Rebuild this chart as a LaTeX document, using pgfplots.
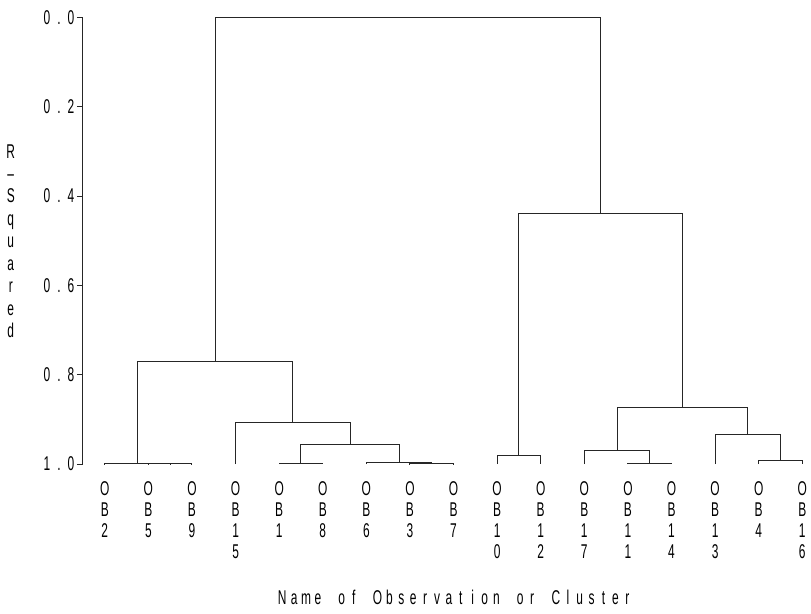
\documentclass[border=0pt]{standalone}
\usepackage{fontspec}
\setmainfont{Liberation Sans}
\usepackage{graphicx}
\usepackage{pgfplots}
\pgfplotsset{compat=1.18}
\newcommand{\g}[1]{\scalebox{0.6}[1]{#1}}
\newcommand{\cell}[1]{\makebox[11.9bp]{\g{#1}}}
\makeatletter
\def\cells#1{\cells@i#1\relax}
\def\cells@i#1{\ifx\relax#1\else\cell{#1}\expandafter\cells@i\fi}
\makeatother
\newcommand{\OB}[1]{\g{O}\\\g{B}\\\g{#1}}
\newcommand{\OBB}[2]{\g{O}\\\g{B}\\\g{#1}\\\g{#2}}
\newcommand{\leaf}[2]{\node[anchor=north, align=center, inner sep=0pt, font=\fontsize{20}{21}\selectfont] at (axis cs:#1,1.04) {#2};}
\begin{document}
\begin{tikzpicture}
\path[use as bounding box] (-83bp,-150bp) rectangle (728bp,464bp);
\begin{axis}[
  at={(0,0)}, anchor=south west,
  scale only axis, width=728bp, height=446.5bp,
  xmin=-0.5, xmax=16.2, ymin=0, ymax=1, y dir=reverse,
  axis x line=none, axis y line*=left,
  ytick={0,0.2,0.4,0.6,0.8,1},
  yticklabels={\cells{0.0},\cells{0.2},\cells{0.4},\cells{0.6},\cells{0.8},\cells{1.0}},
  yticklabel style={font=\fontsize{20}{24}\selectfont, inner sep=0pt, anchor=east},
  tick align=outside, major tick length=6bp,
  y axis line style={line width=1bp, black!85},
  ytick style={line width=1bp, black!85},
  clip=false,
  dend/.style={line width=1bp, black!85, mark=none, solid},
]
\addplot[dend] coordinates {(1,1) (1,0.9998) (2,0.9998) (2,1)};
\addplot[dend] coordinates {(0,1) (0,0.9993) (1.5,0.9993) (1.5,0.9998)};
\addplot[dend] coordinates {(4,1) (4,0.9984) (5,0.9984) (5,1)};
\addplot[dend] coordinates {(7,1) (7,0.9996) (8,0.9996) (8,1)};
\addplot[dend] coordinates {(6,1) (6,0.9966) (7.5,0.9966) (7.5,0.9996)};
\addplot[dend] coordinates {(4.5,0.9984) (4.5,0.957) (6.75,0.957) (6.75,0.9966)};
\addplot[dend] coordinates {(3,1) (3,0.908) (5.625,0.908) (5.625,0.957)};
\addplot[dend] coordinates {(0.75,0.9993) (0.75,0.7715) (4.3125,0.7715) (4.3125,0.908)};
\addplot[dend] coordinates {(9,1) (9,0.9814) (10,0.9814) (10,1)};
\addplot[dend] coordinates {(12,1) (12,0.9984) (13,0.9984) (13,1)};
\addplot[dend] coordinates {(11,1) (11,0.970) (12.5,0.970) (12.5,0.9984)};
\addplot[dend] coordinates {(15,1) (15,0.9917) (16,0.9917) (16,1)};
\addplot[dend] coordinates {(14,1) (14,0.935) (15.5,0.935) (15.5,0.9917)};
\addplot[dend] coordinates {(11.75,0.970) (11.75,0.873) (14.75,0.873) (14.75,0.935)};
\addplot[dend] coordinates {(9.5,0.9814) (9.5,0.439) (13.25,0.439) (13.25,0.873)};
\addplot[dend] coordinates {(2.53125,0.7715) (2.53125,0) (11.375,0) (11.375,0.439)};
\leaf{0}{\OB{2}}
\leaf{1}{\OB{5}}
\leaf{2}{\OB{9}}
\leaf{3}{\OBB{1}{5}}
\leaf{4}{\OB{1}}
\leaf{5}{\OB{8}}
\leaf{6}{\OB{6}}
\leaf{7}{\OB{3}}
\leaf{8}{\OB{7}}
\leaf{9}{\OBB{1}{0}}
\leaf{10}{\OBB{1}{2}}
\leaf{11}{\OBB{1}{7}}
\leaf{12}{\OBB{1}{1}}
\leaf{13}{\OBB{1}{4}}
\leaf{14}{\OBB{1}{3}}
\leaf{15}{\OB{4}}
\leaf{16}{\OBB{1}{6}}
\node[inner sep=0pt, font=\fontsize{20}{24}\selectfont] at (axis cs:8.03,1.298) {\cells{Name~of~Observation~or~Cluster}};
\node[inner sep=0pt, align=center, font=\fontsize{20}{22.5}\selectfont] at (axis cs:-2.156,0.5006)
  {\g{R}\\\g{--}\\\g{S}\\\g{q}\\\g{u}\\\g{a}\\\g{r}\\\g{e}\\\g{d}};
\end{axis}
\end{tikzpicture}
\end{document}
